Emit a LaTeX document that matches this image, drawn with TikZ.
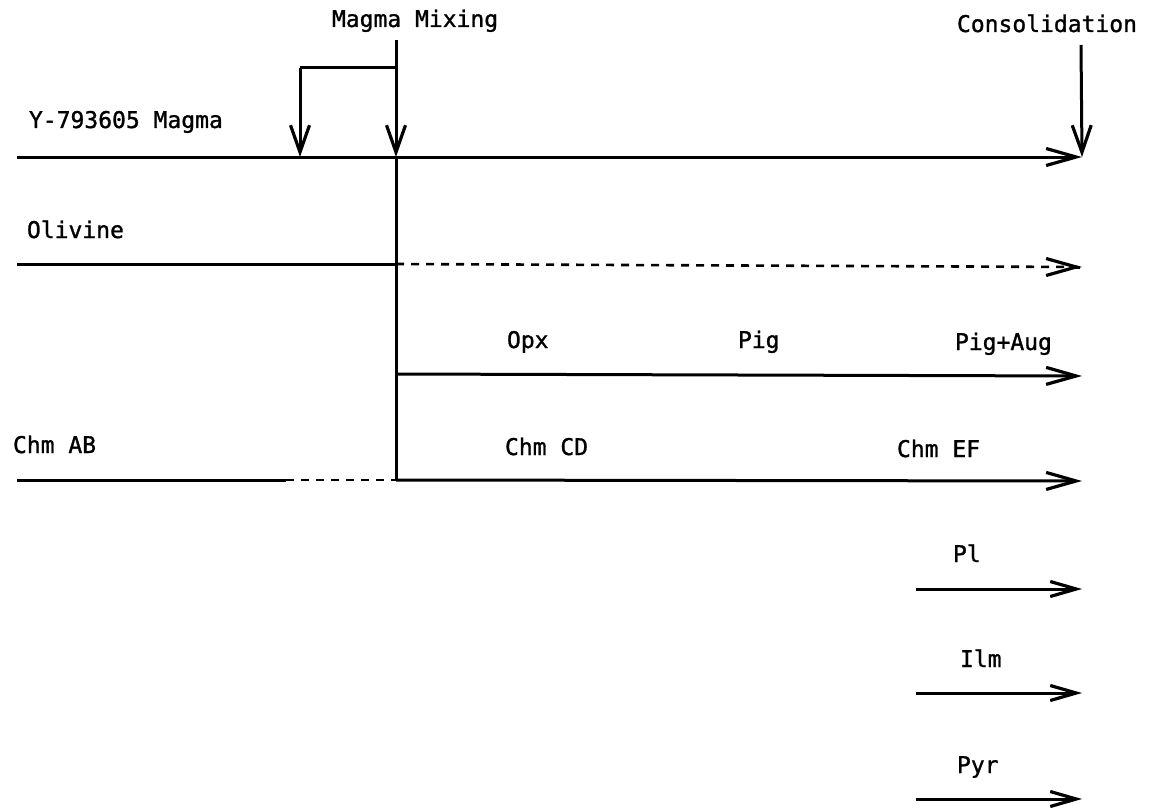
\documentclass[tikz,border=0pt]{standalone}
\usepackage{fontspec}
\newfontfamily\labfont[FakeBold=1.2]{DejaVu Sans Mono}
\usetikzlibrary{arrows.meta}
\tikzset{
  lab/.style={inner sep=0pt, outer sep=0pt, anchor=base west, font=\labfont\fontsize{23}{23}\selectfont},
  ln/.style={line width=3pt},
  dln/.style={line width=2.6pt, dash pattern=on 8pt off 7pt},
  arr/.style={-{Straight Barb[length=30pt,width=17pt,line width=3.2pt]}},
  darr/.style={-{Straight Barb[length=27pt,width=19pt,line width=3.2pt]}},
  sarr/.style={-{Straight Barb[length=26pt,width=15pt,line width=3.2pt]}}
}
\begin{document}
\begin{tikzpicture}[x=1pt,y=-1pt]
\useasboundingbox (0,0) rectangle (1149,808);
% labels
\node[lab] (mix) at (332,27) {Magma Mixing};
\node[lab] (cons) at (957,32) {Consolidation};
\node[lab] (ymag) at (29,128) {Y-793605 Magma};
\node[lab] (oliv) at (27,238) {Olivine};
\node[lab] (opx) at (507,348) {Opx};
\node[lab] (pig) at (738,348) {Pig};
\node[lab] (pigaug) at (955,350) {Pig+Aug};
\node[lab] (chmab) at (13,453) {Chm AB};
\node[lab] (chmcd) at (505,455) {Chm CD};
\node[lab] (chmef) at (897,457) {Chm EF};
\node[lab] (pl) at (953,562) {Pl};
\node[lab] (ilm) at (960,667) {Ilm};
\node[lab] (pyr) at (957,773) {Pyr};
% coordinates
\coordinate (mtop) at (396,40);
\coordinate (bl) at (300,68);
\coordinate (br) at (396,68);
\coordinate (la) at (300,157);
\coordinate (mx) at (396,157);
\coordinate (m0) at (17,157);
\coordinate (m1) at (1082,157);
\coordinate (ctop) at (1081,45);
\coordinate (o0) at (17,264);
\coordinate (ox) at (396,264);
\coordinate (o1) at (1082,267);
\coordinate (o2) at (1078,267);
\coordinate (o3) at (1080,267);
\coordinate (px) at (396,374);
\coordinate (p1) at (1082,376);
\coordinate (c0) at (17,480);
\coordinate (cd) at (286,480);
\coordinate (cx) at (396,480);
\coordinate (c1) at (1082,481);
\coordinate (pl0) at (916,589);
\coordinate (pl1) at (1082,589);
\coordinate (il0) at (916,693);
\coordinate (il1) at (1082,693);
\coordinate (py0) at (916,799);
\coordinate (py1) at (1082,799);
% mixing arrows
\draw[ln,darr] (mtop) -- (mx);
\draw[ln] (bl) -- (br);
\draw[ln,darr] (bl) -- (la);
\draw[ln] (mx) -- (cx);
% consolidation
\draw[ln,darr] (ctop) -- (m1);
% magma line
\draw[ln,arr] (m0) -- (m1);
% olivine
\draw[ln] (o0) -- (ox);
\draw[dln] (ox) -- (o2);
\draw[ln,arr] (o3) -- (o1);
% pyroxene
\draw[ln,arr] (px) -- (p1);
% chromite
\draw[ln] (c0) -- (cd);
\draw[dln] (cd) -- (cx);
\draw[ln,arr] (cx) -- (c1);
% late phases
\draw[ln,sarr] (pl0) -- (pl1);
\draw[ln,sarr] (il0) -- (il1);
\draw[ln,sarr] (py0) -- (py1);
\end{tikzpicture}
\end{document}
